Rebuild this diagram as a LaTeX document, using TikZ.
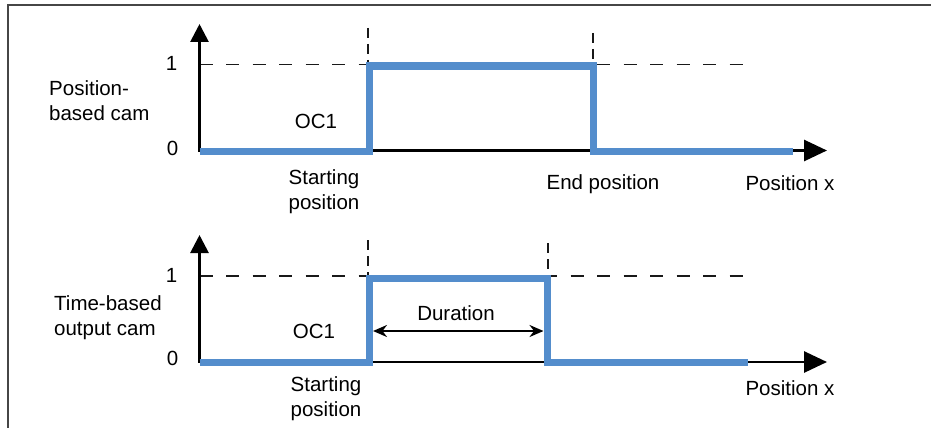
\documentclass[tikz,border=0pt]{standalone}
\usepackage{fontspec}
\setmainfont{Liberation Sans}
\usetikzlibrary{arrows.meta}
\definecolor{signal}{RGB}{84,141,204}
\definecolor{framegray}{RGB}{70,70,70}
\begin{document}
\begin{tikzpicture}[x=1pt,y=-1pt,
  lbl/.style={font=\fontsize{20.5}{25}\selectfont, inner sep=0pt, align=center},
  xaxis/.style={line width=2.8pt, -{Triangle[length=23pt,width=21pt]}},
  yaxis/.style={line width=2.8pt, -{Triangle[length=18pt,width=18pt]}},
  hguide/.style={line width=1.5pt, black!90, dash pattern=on 13pt off 13.5pt},
  vguide/.style={line width=1.5pt, black!90, dash pattern=on 10pt off 6pt},
  cam/.style={line width=7pt, signal, line join=miter},
  span/.style={line width=2.2pt, {Stealth[length=14pt,width=12pt]}-{Stealth[length=14pt,width=12pt]}}]
\useasboundingbox (0,0) rectangle (931,428);

% frame
\coordinate (FB) at (7.5,428);
\coordinate (FC) at (7.5,5.5);
\coordinate (FR) at (931,5.5);
\draw[framegray, line width=2pt] (FB) -- (FC) -- (FR);

% ---------- position-based cam ----------
\coordinate (O1) at (199.5,150.5);
\coordinate (Y1) at (199.5,24);
\coordinate (X1) at (827,150.5);
\coordinate (H1a) at (199.5,64.5);
\coordinate (H1b) at (748,64.5);
\coordinate (V1a) at (368,28);
\coordinate (V1b) at (368,72);
\coordinate (V2a) at (593,33);
\coordinate (V2b) at (593,74);

\draw[hguide] (H1a) -- (H1b);
\draw[vguide] (V1a) -- (V1b);
\draw[vguide] (V2a) -- (V2b);
\draw[yaxis] ([yshift=1.4pt]O1) -- (Y1);
\draw[xaxis] ([xshift=-1.4pt]O1) -- (X1);

\coordinate (A0) at (199.5,151);
\coordinate (A1) at (369.5,151);
\coordinate (A2) at (369.5,66);
\coordinate (A3) at (593,66);
\coordinate (A4) at (593,151);
\coordinate (A5) at (793,151);
\draw[cam] (A0) -- (A1) -- (A2) -- (A3) -- (A4) -- (A5);

\node[lbl] (one1) at (171.5,63) {1};
\node[lbl] (zero1) at (172.5,148) {0};
\node[lbl, anchor=west, align=left] (name1) at (49,101) {Position-\\based cam};
\node[lbl] (oc1) at (316,121.5) {OC1};
\node[lbl] (start1) at (324,192) {Starting\\position};
\node[lbl] (end1) at (603,184) {End position};
\node[lbl] (pos1) at (790,183) {Position x};

% ---------- time-based output cam ----------
\coordinate (O2) at (199.5,362);
\coordinate (Y2) at (199.5,235);
\coordinate (X2) at (827,362);
\coordinate (H2a) at (199.5,276);
\coordinate (H2b) at (748,276);
\coordinate (W1a) at (368,240);
\coordinate (W1b) at (368,282);
\coordinate (W2a) at (548,243);
\coordinate (W2b) at (548,285);

\draw[hguide] (H2a) -- (H2b);
\draw[vguide] (W1a) -- (W1b);
\draw[vguide] (W2a) -- (W2b);
\draw[yaxis] ([yshift=1.4pt]O2) -- (Y2);
\draw[xaxis] ([xshift=-1.4pt]O2) -- (X2);

\coordinate (B0) at (199.5,362.5);
\coordinate (B1) at (369.5,362.5);
\coordinate (B2) at (369.5,278);
\coordinate (B3) at (547,278);
\coordinate (B4) at (547,362.5);
\coordinate (B5) at (748,362.5);
\draw[cam] (B0) -- (B1) -- (B2) -- (B3) -- (B4) -- (B5);

\coordinate (D1) at (373,331);
\coordinate (D2) at (543.5,331);
\draw[span] (D1) -- (D2);

\node[lbl] (one2) at (171.5,275) {1};
\node[lbl] (zero2) at (172.5,358) {0};
\node[lbl, anchor=west, align=left] (name2) at (54,318) {Time-based\\output cam};
\node[lbl] (oc2) at (314,331) {OC1};
\node[lbl] (dur) at (456,313) {Duration};
\node[lbl] (start2) at (326,399) {Starting\\position};
\node[lbl] (pos2) at (790,388) {Position x};
\end{tikzpicture}
\end{document}
